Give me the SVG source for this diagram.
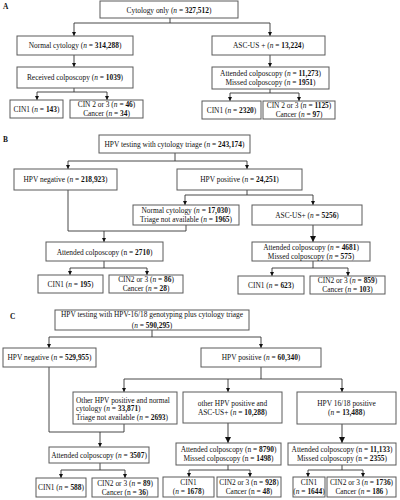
<svg xmlns="http://www.w3.org/2000/svg" width="400" height="500" viewBox="0 0 400 500">
<defs>
<marker id="ah" viewBox="0 0 6 6" refX="6" refY="3" markerWidth="4.5" markerHeight="4.5" orient="auto"><path d="M0,0 L6,3 L0,6 z" fill="#111"/></marker>
<style>
.box{fill:#fff;stroke:#5a5a5a;stroke-width:1}
.t{font-family:"Liberation Serif","Times New Roman",serif;font-size:7.4px;fill:#111;text-anchor:middle}
.l{text-anchor:start}
.b{font-weight:bold}
.i{font-style:italic}
.p{font-family:"Liberation Serif","Times New Roman",serif;font-size:7.4px;font-weight:bold;fill:#111}
.c{fill:none;stroke:#333;stroke-width:0.9}
.a{fill:none;stroke:#333;stroke-width:0.9;marker-end:url(#ah)}
.g{fill:none;stroke:#777;stroke-width:1.4;marker-end:url(#ah)}
</style>
</defs>
<rect width="400" height="500" fill="#fff"/>
<text class="p" x="3" y="9">A</text>
<text class="p" x="3" y="142">B</text>
<text class="p" x="10" y="319">C</text>

<g id="connectors">
<!-- A -->
<path class="c" d="M170,18 V23 M74,23 H270"/>
<path class="a" d="M74,23 V36"/><path class="a" d="M270,23 V36"/>
<path class="a" d="M74,55 V67"/><path class="a" d="M270,55 V67"/>
<path class="c" d="M74,88 V92 M37,92 H107"/>
<path class="a" d="M37,92 V100"/><path class="a" d="M107,92 V100"/>
<path class="c" d="M270,89 V93 M230,93 H299"/>
<path class="a" d="M230,93 V101"/><path class="a" d="M299,93 V101"/>
<!-- B -->
<path class="c" d="M175,153 V161 M68,161 H247"/>
<path class="a" d="M68,161 V169"/><path class="a" d="M247,161 V169"/>
<path class="c" d="M247,190 V195 M185,195 H313"/>
<path class="a" d="M185,195 V205"/><path class="a" d="M313,195 V205"/>
<path class="c" d="M68,190 V231 H186 V225"/>
<path class="a" d="M104,231 V242"/>
<path class="g" d="M313,225 V242"/>
<path class="c" d="M104,261 V268 M70,268 H147"/>
<path class="a" d="M70,268 V275"/><path class="a" d="M147,268 V275"/>
<path class="c" d="M313,261 V268 M272,268 H348"/>
<path class="a" d="M272,268 V276"/><path class="a" d="M348,268 V276"/>
<!-- C -->
<path class="c" d="M152,330 V337 M49,337 H261"/>
<path class="a" d="M49,337 V348"/><path class="a" d="M261,337 V348"/>
<path class="c" d="M261,367 V379 M124,379 H342"/>
<path class="a" d="M124,379 V392"/><path class="a" d="M228,379 V392"/><path class="a" d="M342,379 V392"/>
<path class="c" d="M49,367 V432 H124 V424"/>
<path class="a" d="M100,432 V447"/>
<path class="g" d="M228,423 V443"/>
<path class="g" d="M342,424 V443"/>
<path class="c" d="M100,463 V470 M61,470 H125"/>
<path class="a" d="M61,470 V478"/><path class="a" d="M125,470 V478"/>
<path class="c" d="M228,465 V470 M189,470 H250"/>
<path class="a" d="M189,470 V477"/><path class="a" d="M250,470 V477"/>
<path class="c" d="M342,465 V470 M308,470 H363"/>
<path class="a" d="M308,470 V477"/><path class="a" d="M363,470 V477"/>
</g>

<!-- Panel A -->
<g id="a0"><rect class="box" x="100" y="1" width="138" height="17"/><text class="t" x="169" y="12.5">Cytology only (<tspan class="i">n</tspan> = <tspan class="b">327,512</tspan>)</text></g>
<g id="a1"><rect class="box" x="17" y="36" width="116" height="19"/><text class="t" x="75" y="48">Normal cytology (<tspan class="i">n</tspan> = <tspan class="b">314,288</tspan>)</text></g>
<g id="a2"><rect class="box" x="212" y="36" width="113" height="19"/><text class="t" x="268.5" y="48">ASC-US +  (<tspan class="i">n</tspan> = <tspan class="b">13,224</tspan>)</text></g>
<g id="a3"><rect class="box" x="17" y="67" width="116" height="21"/><text class="t" x="75" y="80">Received colposcopy (<tspan class="i">n</tspan> = <tspan class="b">1039</tspan>)</text></g>
<g id="a4"><rect class="box" x="212" y="67" width="117" height="22"/><text class="t" x="270.5" y="75.5">Attended colposcopy (<tspan class="i">n</tspan> = <tspan class="b">11,273</tspan>)</text><text class="t" x="270.5" y="85">Missed colposcopy (<tspan class="i">n</tspan> = <tspan class="b">1951</tspan>)</text></g>
<g id="a5"><rect class="box" x="10" y="100" width="53" height="18"/><text class="t" x="36.5" y="111.5">CIN1 (<tspan class="i">n</tspan> = <tspan class="b">143</tspan>)</text></g>
<g id="a6"><rect class="box" x="70" y="100" width="73" height="18"/><text class="t" x="106.5" y="107">CIN 2 or 3 (<tspan class="i">n</tspan> = <tspan class="b">46</tspan>)</text><text class="t" x="106.5" y="116">Cancer (<tspan class="i">n</tspan> = <tspan class="b">34</tspan>)</text></g>
<g id="a7"><rect class="box" x="202" y="101" width="59" height="18"/><text class="t" x="231.5" y="112.5">CIN1 (<tspan class="i">n</tspan> = <tspan class="b">2320</tspan>)</text></g>
<g id="a8"><rect class="box" x="263" y="101" width="72" height="18"/><text class="t" x="299" y="108">CIN 2 or 3 (<tspan class="i">n</tspan> = <tspan class="b">1125</tspan>)</text><text class="t" x="299" y="117">Cancer (<tspan class="i">n</tspan> = <tspan class="b">97</tspan>)</text></g>

<!-- Panel B -->
<g id="b0"><rect class="box" x="99" y="135" width="151" height="18"/><text class="t" x="174.5" y="147">HPV testing with cytology triage (<tspan class="i">n</tspan> = <tspan class="b">243,174</tspan>)</text></g>
<g id="b1"><rect class="box" x="14" y="169" width="103" height="21"/><text class="t" x="65.5" y="182">HPV negative (<tspan class="i">n</tspan> = <tspan class="b">218,923</tspan>)</text></g>
<g id="b2"><rect class="box" x="177" y="169" width="125" height="21"/><text class="t" x="239.5" y="182">HPV positive  (<tspan class="i">n</tspan> = <tspan class="b">24,251</tspan>)</text></g>
<g id="b3"><rect class="box" x="133" y="205" width="106" height="20"/><text class="t" x="186" y="213">Normal cytology (<tspan class="i">n</tspan> = <tspan class="b">17,030</tspan>)</text><text class="t" x="186" y="222">Triage not available (<tspan class="i">n</tspan> = <tspan class="b">1965</tspan>)</text></g>
<g id="b4"><rect class="box" x="252" y="205" width="110" height="20"/><text class="t" x="307" y="218">ASC-US+ (<tspan class="i">n</tspan> = <tspan class="b">5256</tspan>)</text></g>
<g id="b5"><rect class="box" x="46" y="242" width="117" height="19"/><text class="t" x="104.5" y="254.5">Attended colposcopy (n = <tspan class="b">2710</tspan>)</text></g>
<g id="b6"><rect class="box" x="252" y="242" width="118" height="19"/><text class="t" x="311" y="249.5">Attended colposcopy (<tspan class="i">n</tspan> = <tspan class="b">4681</tspan>)</text><text class="t" x="311" y="258.5">Missed colposcopy (<tspan class="i">n</tspan> = <tspan class="b">575</tspan>)</text></g>
<g id="b7"><rect class="box" x="38" y="275" width="65" height="18"/><text class="t" x="70.5" y="286.5">CIN1 (<tspan class="i">n</tspan> = <tspan class="b">195</tspan>)</text></g>
<g id="b8"><rect class="box" x="109" y="275" width="74" height="18"/><text class="t" x="146" y="282">CIN2 or 3 (<tspan class="i">n</tspan> = <tspan class="b">86</tspan>)</text><text class="t" x="146" y="291">Cancer (<tspan class="i">n</tspan> = <tspan class="b">28</tspan>)</text></g>
<g id="b9"><rect class="box" x="238" y="276" width="66" height="18"/><text class="t" x="271" y="287.5">CIN1 (<tspan class="i">n</tspan> = <tspan class="b">623</tspan>)</text></g>
<g id="b10"><rect class="box" x="310" y="276" width="75" height="18"/><text class="t" x="347.5" y="283">CIN2 or 3 (<tspan class="i">n</tspan> = <tspan class="b">859</tspan>)</text><text class="t" x="347.5" y="292">Cancer (<tspan class="i">n</tspan> = <tspan class="b">103</tspan>)</text></g>

<!-- Panel C -->
<g id="c0"><rect class="box" x="55" y="310" width="194" height="20"/><text class="t" x="152" y="317">HPV testing with HPV-16/18 genotyping plus cytology triage</text><text class="t" x="152" y="327.5">(<tspan class="i">n</tspan> = <tspan class="b">590,295</tspan>)</text></g>
<g id="c1"><rect class="box" x="3" y="348" width="93" height="19"/><text class="t" x="49.5" y="360">HPV negative (<tspan class="i">n</tspan> = <tspan class="b">529,955</tspan>)</text></g>
<g id="c2"><rect class="box" x="201" y="348" width="120" height="19"/><text class="t" x="261" y="360">HPV positive (<tspan class="i">n</tspan> = <tspan class="b">60,340</tspan>)</text></g>
<g id="c3"><rect class="box" x="73" y="392" width="104" height="32"/><text class="t l" x="76" y="402.5">Other HPV positive and normal</text><text class="t l" x="76" y="411">cytology (<tspan class="i">n</tspan> = <tspan class="b">33,871</tspan>)</text><text class="t l" x="76" y="420">Triage  not available (<tspan class="i">n</tspan> = <tspan class="b">2693</tspan>)</text></g>
<g id="c4"><rect class="box" x="49" y="447" width="100" height="16"/><text class="t" x="99" y="457.5">Attended colposcopy (<tspan class="i">n</tspan> = <tspan class="b">3507</tspan>)</text></g>
<g id="c5"><rect class="box" x="36" y="478" width="50" height="19"/><text class="t" x="61" y="490">CIN1 (<tspan class="i">n</tspan> = <tspan class="b">588</tspan>)</text></g>
<g id="c6"><rect class="box" x="92" y="478" width="66" height="19"/><text class="t" x="125" y="485.5">CIN2 or 3 (<tspan class="i">n</tspan> = <tspan class="b">89</tspan>)</text><text class="t" x="125" y="494.5">Cancer (n = <tspan class="b">36</tspan>)</text></g>
<g id="c7"><rect class="box" x="183" y="392" width="99" height="31"/><text class="t" x="232.5" y="406">other HPV positive  and</text><text class="t" x="232.5" y="415">ASC-US+ (<tspan class="i">n</tspan> = <tspan class="b">10,288</tspan>)</text></g>
<g id="c8"><rect class="box" x="176" y="443" width="105" height="22"/><text class="t" x="228.5" y="452">Attended colposcopy (n = <tspan class="b">8790</tspan>)</text><text class="t" x="228.5" y="461">Missed colposcopy (n = <tspan class="b">1498</tspan>)</text></g>
<g id="c9"><rect class="box" x="163" y="477" width="51" height="20"/><text class="t" x="188.5" y="485">CIN1</text><text class="t" x="188.5" y="494">(<tspan class="i">n</tspan> = <tspan class="b">1678</tspan>)</text></g>
<g id="c10"><rect class="box" x="217" y="477" width="64" height="20"/><text class="t" x="249" y="485">CIN2 or 3 (n = <tspan class="b">928</tspan>)</text><text class="t" x="249" y="494">Cancer (n = <tspan class="b">48</tspan>)</text></g>
<g id="c11"><rect class="box" x="297" y="392" width="99" height="32"/><text class="t" x="346.5" y="406">HPV 16/18 positive</text><text class="t" x="346.5" y="415">(<tspan class="i">n</tspan> = <tspan class="b">13,488</tspan>)</text></g>
<g id="c12"><rect class="box" x="288" y="443" width="108" height="22"/><text class="t" x="342" y="452">Attended colposcopy (n = <tspan class="b">11,133</tspan>)</text><text class="t" x="342" y="461">Missed colposcopy (n = <tspan class="b">2355</tspan>)</text></g>
<g id="c13"><rect class="box" x="293" y="477" width="32" height="20"/><text class="t" x="309" y="485">CIN1</text><text class="t" x="309" y="494">(<tspan class="i">n</tspan> = <tspan class="b">1644</tspan>)</text></g>
<g id="c14"><rect class="box" x="327" y="477" width="69" height="20"/><text class="t" x="361.5" y="485">CIN2 or 3 (<tspan class="i">n</tspan> = <tspan class="b">1736</tspan>)</text><text class="t" x="361.5" y="494">Cancer (<tspan class="i">n</tspan> = <tspan class="b">186 </tspan>)</text></g>
</svg>
